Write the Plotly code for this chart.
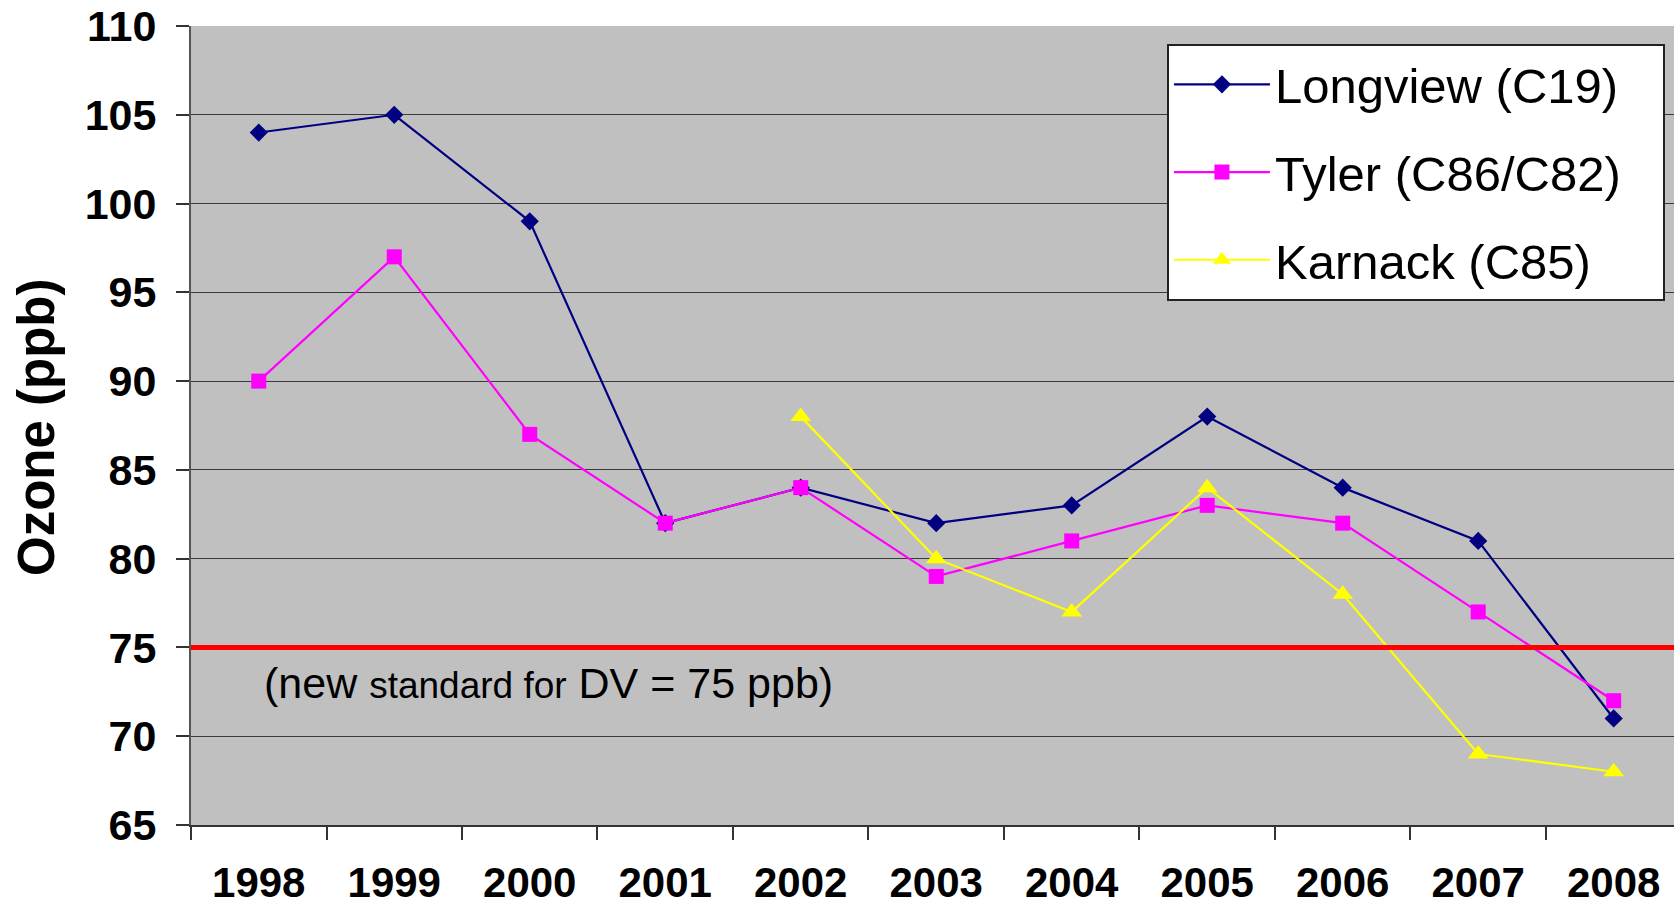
import plotly.graph_objects as go

years = ["1998", "1999", "2000", "2001", "2002", "2003", "2004", "2005", "2006", "2007", "2008"]
longview = [104, 105, 99, 82, 84, 82, 83, 88, 84, 81, 71]
tyler = [90, 97, 87, 82, 84, 79, 81, 83, 82, 77, 72]
karnack = [None, None, None, None, 88, 80, 77, 84, 78, 69, 68]
standard = 75

FONT = "Arial, Liberation Sans, sans-serif"
PAD = "\u00a0\u00a0\u2009"  # right padding inside the legend box

fig = go.Figure()
fig.add_trace(go.Scatter(
    x=years, y=longview, name="Longview (C19)" + PAD, mode="lines+markers",
    line=dict(color="#000080", width=2.2),
    marker=dict(symbol="diamond", size=14, color="#000080"),
    legendgroup="a",
))
fig.add_trace(go.Scatter(
    x=years, y=tyler, name="Tyler (C86/C82)" + PAD, mode="lines+markers",
    line=dict(color="#FF00FF", width=2.2),
    marker=dict(symbol="square", size=15, color="#FF00FF"),
    legendgroup="b",
))
fig.add_trace(go.Scatter(
    x=years, y=karnack, name="Karnack (C85)" + PAD, mode="lines+markers",
    line=dict(color="#FFFF00", width=2.2),
    marker=dict(symbol="triangle-up", size=18, color="#FFFF00"),
    legendgroup="c",
))

# ozone standard
fig.add_shape(type="line", xref="paper", x0=0, x1=1, yref="y", y0=standard, y1=standard,
              line=dict(color="#FF0000", width=5), layer="above")

fig.add_annotation(
    x=0.024, y=73, xref="x", yref="y", xanchor="left", yanchor="middle", showarrow=False,
    text="(new <span style='font-size:37px'>standard for</span> DV = 75 ppb)",
    font=dict(family=FONT, size=43, color="#000000"),
)

fig.add_annotation(
    x=-0.1046, y=0.498, xref="paper", yref="paper", xanchor="center", yanchor="middle",
    showarrow=False, textangle=-90, text="Ozone (ppb)",
    font=dict(family=FONT, size=51, color="#000000", weight="bold"),
)

fig.update_layout(
    width=1674, height=908,
    margin=dict(l=191, r=0, t=26, b=83),
    paper_bgcolor="#FFFFFF", plot_bgcolor="#C0C0C0",
    font=dict(family=FONT, color="#000000"),
    showlegend=True,
    legend=dict(
        x=0.9939, y=0.9775, xanchor="right", yanchor="top",
        bgcolor="#FFFFFF", bordercolor="#222222", borderwidth=2,
        font=dict(family=FONT, size=49, color="#000000"),
        tracegroupgap=21, itemwidth=96, traceorder="grouped",
    ),
)

fig.update_xaxes(
    type="category", range=[-0.5, 10.445], tickson="boundaries",
    showgrid=False, showline=True, linecolor="#333333", linewidth=1.5,
    ticks="outside", ticklen=13, tickwidth=1.5, tickcolor="#333333",
    tickfont=dict(family=FONT, size=42, color="#000000", weight="bold"),
    ticklabelstandoff=20, automargin=False, zeroline=False,
)
fig.update_yaxes(
    range=[65, 110], dtick=5, tick0=65,
    showgrid=True, gridcolor="#3a3a3a", gridwidth=1,
    showline=True, linecolor="#555555", linewidth=2,
    ticks="outside", ticklen=13, tickwidth=1.5, tickcolor="#333333",
    tickfont=dict(family=FONT, size=43, color="#000000", weight="bold"),
    ticklabelstandoff=11, automargin=False, zeroline=False,
)

fig.write_html("out.html")
